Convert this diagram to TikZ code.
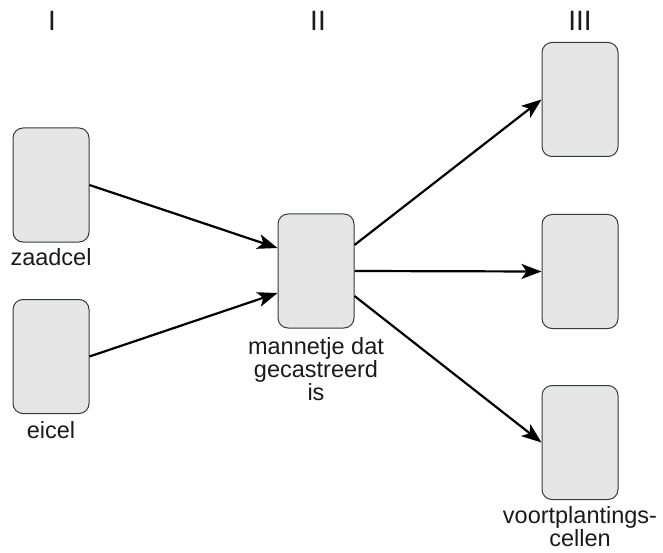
\documentclass[tikz,border=0pt]{standalone}
\usepackage{fontspec}
\setmainfont{Liberation Sans}
\usetikzlibrary{positioning,arrows.meta}
\definecolor{cellfill}{HTML}{E6E6E6}
\definecolor{celldraw}{HTML}{36393D}
\definecolor{inktext}{HTML}{1A1A1A}
\tikzset{
  cell box/.style={rectangle, draw=celldraw, fill=cellfill, rounded corners=10pt, line width=1pt, minimum width=76pt, minimum height=114pt, inner sep=0pt},
  cell label/.style={align=center, inner sep=0pt, text=inktext, font=\fontsize{23.5}{21}\selectfont},
  stage label/.style={anchor=base, inner sep=0pt, text=inktext, font=\fontsize{28}{30}\selectfont},
  flow arrow/.style={-{Stealth[length=20pt, width=15pt, inset=5pt]}, line width=2.2pt, black}
}

\begin{document}
\begin{tikzpicture}[x=1pt, y=-1pt]
    \useasboundingbox (0,0) rectangle (663,553);
    % stages
    \node [stage label] (StI) at (52,30.7) {I};
    \node [stage label] (StII) at (318,30.7) {II};
    \node [stage label] (StIII) at (580,30.7) {III};

    % cells
    \node [cell box] (Zaad) at (51,185) {};
    \node [cell box] (Ei) at (51,356.5) {};
    \node [cell box] (Man) at (316,271) {};
    \node [cell box] (VcA) at (580,99.5) {};
    \node [cell box] (VcB) at (580,271.5) {};
    \node [cell box] (VcC) at (580,442.5) {};

    \node [cell label, below=6pt of Zaad] (ZaadL) {zaadcel};
    \node [cell label, below=7pt of Ei] (EiL) {eicel};
    \node [cell label, below=8.5pt of Man] (ManL) {mannetje dat\\gecastreerd\\is};
    \node [cell label, below=6pt of VcC] (VcL) {voortplantings-\\cellen};

    % in
    \draw [flow arrow] (Zaad.east) -- ([yshift=23pt]Man.west);
    \draw [flow arrow] (Ei.east) -- ([yshift=-22pt]Man.west);
    % out
    \draw [flow arrow] ([yshift=26pt]Man.east) -- (VcA.west);
    \draw [flow arrow] (Man.east) -- (VcB.west);
    \draw [flow arrow] ([yshift=-25pt]Man.east) -- (VcC.west);
\end{tikzpicture}
\end{document}
